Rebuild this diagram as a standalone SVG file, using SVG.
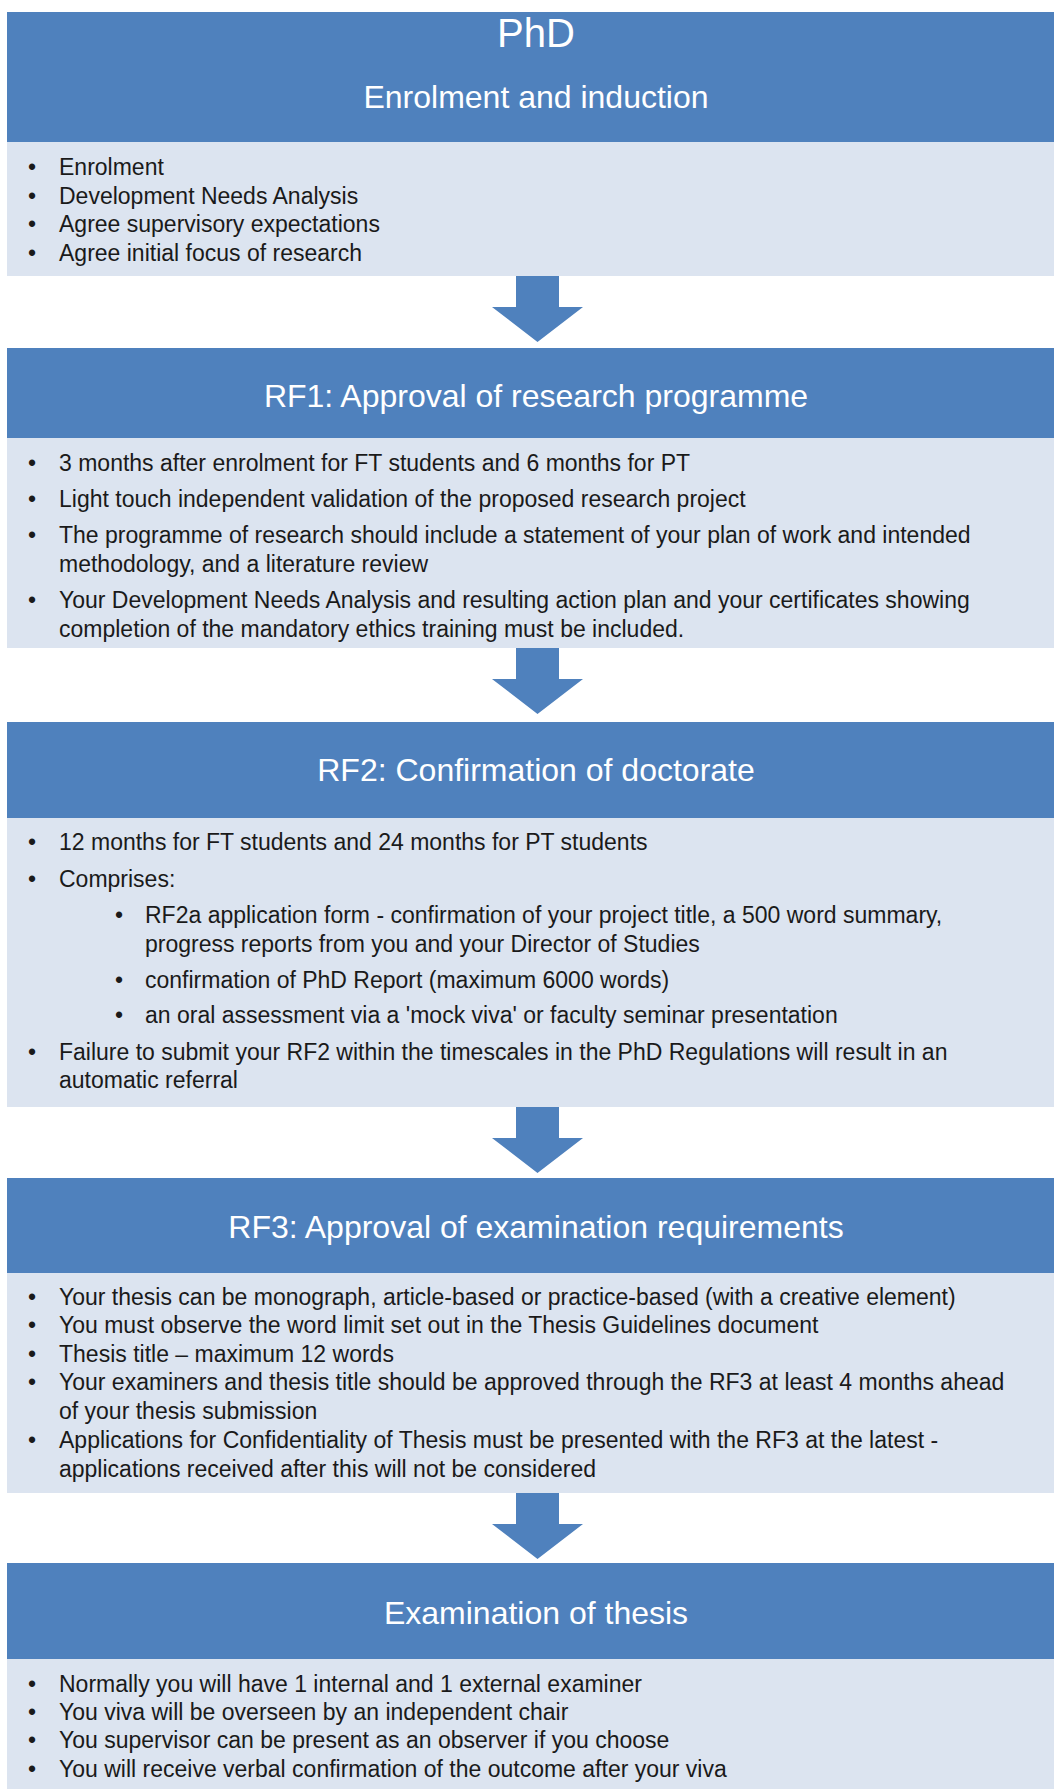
<svg xmlns="http://www.w3.org/2000/svg" xmlns:xlink="http://www.w3.org/1999/xlink" width="1054" height="1789" viewBox="0 0 1054 1789">
<style>
.hd{fill:#4F81BD}
.bd{fill:#DCE4F0}
.ttl{font-family:"Liberation Sans",Arial,sans-serif;font-size:32px;fill:#FFFFFF;text-anchor:middle}
.big{font-size:40px}
.tx{font-family:"Liberation Sans",Arial,sans-serif;font-size:23px;fill:#1A1A1A}
.arw{fill:#4F81BD}
</style>
<defs>
<path id="arrow" d="M -21.5 0 H 21.5 V 31 H 45.5 L 0 66 L -45.5 31 H -21.5 Z"/>
</defs>
<rect x="0" y="0" width="1054" height="1789" fill="#FFFFFF"/>

<g id="node-enrolment">
<rect class="hd" x="7" y="12" width="1047" height="130"/>
<rect class="bd" x="7" y="142" width="1047" height="134"/>
<text class="ttl big" x="536" y="47">PhD</text>
<text class="ttl" x="536" y="108">Enrolment and induction</text>
<g class="tx">
<text x="28" y="175">•</text><text x="59" y="175">Enrolment</text>
<text x="28" y="204">•</text><text x="59" y="204">Development Needs Analysis</text>
<text x="28" y="232">•</text><text x="59" y="232">Agree supervisory expectations</text>
<text x="28" y="261">•</text><text x="59" y="261">Agree initial focus of research</text>
</g>
</g>

<g id="node-rf1">
<rect class="hd" x="7" y="348" width="1047" height="90"/>
<rect class="bd" x="7" y="438" width="1047" height="210"/>
<text class="ttl" x="536" y="407">RF1: Approval of research programme</text>
<g class="tx">
<text x="28" y="471">•</text><text x="59" y="471">3 months after enrolment for FT students and 6 months for PT</text>
<text x="28" y="507">•</text><text x="59" y="507">Light touch independent validation of the proposed research project</text>
<text x="28" y="543">•</text><text x="59" y="543">The programme of research should include a statement of your plan of work and intended</text>
<text x="59" y="572">methodology, and a literature review</text>
<text x="28" y="608">•</text><text x="59" y="608">Your Development Needs Analysis and resulting action plan and your certificates showing</text>
<text x="59" y="637">completion of the mandatory ethics training must be included.</text>
</g>
</g>

<g id="node-rf2">
<rect class="hd" x="7" y="722" width="1047" height="96"/>
<rect class="bd" x="7" y="818" width="1047" height="289"/>
<text class="ttl" x="536" y="781">RF2: Confirmation of doctorate</text>
<g class="tx">
<text x="28" y="850">•</text><text x="59" y="850">12 months for FT students and 24 months for PT students</text>
<text x="28" y="887">•</text><text x="59" y="887">Comprises:</text>
<text x="115" y="923">•</text><text x="145" y="923">RF2a application form - confirmation of your project title, a 500 word summary,</text>
<text x="145" y="952">progress reports from you and your Director of Studies</text>
<text x="115" y="988">•</text><text x="145" y="988">confirmation of PhD Report (maximum 6000 words)</text>
<text x="115" y="1023">•</text><text x="145" y="1023">an oral assessment via a 'mock viva' or faculty seminar presentation</text>
<text x="28" y="1060">•</text><text x="59" y="1060">Failure to submit your RF2 within the timescales in the PhD Regulations will result in an</text>
<text x="59" y="1088">automatic referral</text>
</g>
</g>

<g id="node-rf3">
<rect class="hd" x="7" y="1178" width="1047" height="95"/>
<rect class="bd" x="7" y="1273" width="1047" height="220"/>
<text class="ttl" x="536" y="1238">RF3: Approval of examination requirements</text>
<g class="tx">
<text x="28" y="1305">•</text><text x="59" y="1305">Your thesis can be monograph, article-based or practice-based (with a creative element)</text>
<text x="28" y="1333">•</text><text x="59" y="1333">You must observe the word limit set out in the Thesis Guidelines document</text>
<text x="28" y="1362">•</text><text x="59" y="1362">Thesis title – maximum 12 words</text>
<text x="28" y="1390">•</text><text x="59" y="1390">Your examiners and thesis title should be approved through the RF3 at least 4 months ahead</text>
<text x="59" y="1419">of your thesis submission</text>
<text x="28" y="1448">•</text><text x="59" y="1448">Applications for Confidentiality of Thesis must be presented with the RF3 at the latest -</text>
<text x="59" y="1477">applications received after this will not be considered</text>
</g>
</g>

<g id="node-exam">
<rect class="hd" x="7" y="1563" width="1047" height="96"/>
<rect class="bd" x="7" y="1659" width="1047" height="130"/>
<text class="ttl" x="536" y="1624">Examination of thesis</text>
<g class="tx">
<text x="28" y="1692">•</text><text x="59" y="1692">Normally you will have 1 internal and 1 external examiner</text>
<text x="28" y="1720">•</text><text x="59" y="1720">You viva will be overseen by an independent chair</text>
<text x="28" y="1748">•</text><text x="59" y="1748">You supervisor can be present as an observer if you choose</text>
<text x="28" y="1777">•</text><text x="59" y="1777">You will receive verbal confirmation of the outcome after your viva</text>
</g>
</g>

<g id="connectors" class="arw">
<use xlink:href="#arrow" href="#arrow" transform="translate(537.5,276)"/>
<use xlink:href="#arrow" href="#arrow" transform="translate(537.5,648)"/>
<use xlink:href="#arrow" href="#arrow" transform="translate(537.5,1107)"/>
<use xlink:href="#arrow" href="#arrow" transform="translate(537.5,1493)"/>
</g>
</svg>
